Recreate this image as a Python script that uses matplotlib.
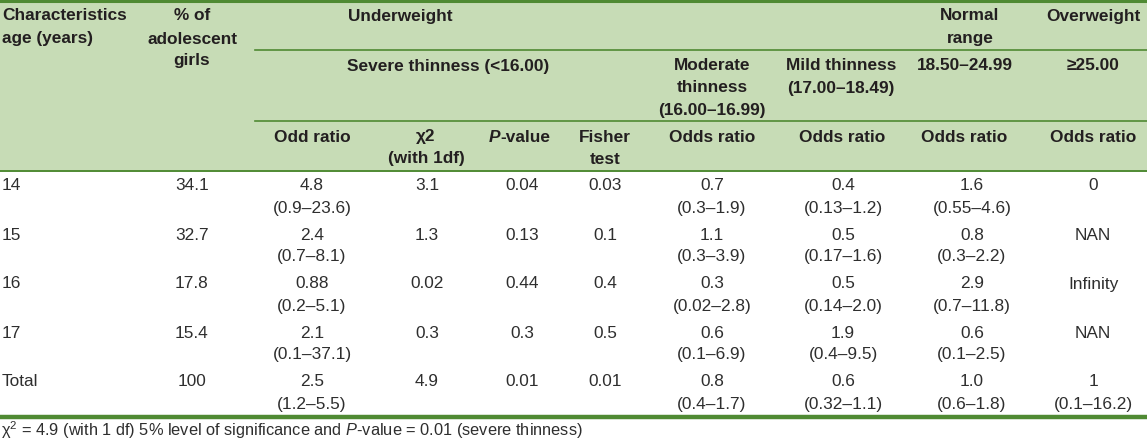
import matplotlib.pyplot as plt

plt.rcParams['font.family'] = ['Liberation Sans', 'DejaVu Sans']
plt.rcParams['mathtext.fontset'] = 'custom'
plt.rcParams['mathtext.rm'] = 'Liberation Sans'
plt.rcParams['mathtext.it'] = 'Liberation Sans:italic'
plt.rcParams['mathtext.bf'] = 'Liberation Sans:bold'

# table data
ages = ["14", "15", "16", "17", "Total"]
pct_girls = ["34.1", "32.7", "17.8", "15.4", "100"]
severe_or = ["4.8", "2.4", "0.88", "2.1", "2.5"]
severe_ci = ["(0.9–23.6)", "(0.7–8.1)", "(0.2–5.1)", "(0.1–37.1)", "(1.2–5.5)"]
chi2 = ["3.1", "1.3", "0.02", "0.3", "4.9"]
p_value = ["0.04", "0.13", "0.44", "0.3", "0.01"]
fisher = ["0.03", "0.1", "0.4", "0.5", "0.01"]
moderate_or = ["0.7", "1.1", "0.3", "0.6", "0.8"]
moderate_ci = ["(0.3–1.9)", "(0.3–3.9)", "(0.02–2.8)", "(0.1–6.9)", "(0.4–1.7)"]
mild_or = ["0.4", "0.5", "0.5", "1.9", "0.6"]
mild_ci = ["(0.13–1.2)", "(0.17–1.6)", "(0.14–2.0)", "(0.4–9.5)", "(0.32–1.1)"]
normal_or = ["1.6", "0.8", "2.9", "0.6", "1.0"]
normal_ci = ["(0.55–4.6)", "(0.3–2.2)", "(0.7–11.8)", "(0.1–2.5)", "(0.6–1.8)"]
over_or = ["0", "NAN", "Infinity", "NAN", "1"]
over_ci = ["", "", "", "", "(0.1–16.2)"]

green = '#4f8a33'
fill = '#c7dcb6'
txt = '#231f20'
body = '#2e2e2e'
fs = 12.4

fig = plt.figure(figsize=(11.47, 4.41), dpi=100)
ax = fig.add_axes([0, 0, 1, 1])
ax.set_xlim(0, 1147)
ax.set_ylim(441, 0)
ax.axis('off')

# header background and rules
ax.axhspan(0, 170, color=fill, lw=0)
ax.plot([0, 1147], [1.2, 1.2], color=green, lw=2.2)
ax.plot([255, 1147], [50, 50], color=green, lw=1.2)
ax.plot([255, 1147], [121, 121], color=green, lw=1.2)
ax.plot([0, 1147], [170.5, 170.5], color=green, lw=1.4)
ax.plot([0, 1147], [417, 417], color=green, lw=3.2)

def hdr(x, y, s, ha='center'):
    ax.text(x, y, s, ha=ha, va='center', fontsize=fs, fontweight='bold', color=txt)

# header row 1
hdr(2, 16, "Characteristics", 'left')
hdr(2, 39, "age (years)", 'left')
hdr(192, 16, "% of")
hdr(192, 39, "adolescent")
hdr(192, 61, "girls")
hdr(400, 16, "Underweight")
hdr(970, 16, "Normal")
hdr(970, 39, "range")
hdr(1093, 16, "Overweight")

# header row 2
hdr(448, 66, "Severe thinness (<16.00)")
hdr(712, 66, "Moderate")
hdr(712, 88, "thinness")
hdr(712, 110, "(16.00–16.99)")
hdr(841, 66, "Mild thinness")
hdr(841, 88, "(17.00–18.49)")
hdr(965, 66, "18.50–24.99")
hdr(1093, 66, "≥25.00")

# header row 3
hdr(312, 137, "Odd ratio")
hdr(426, 137, "χ2")
hdr(426, 159, "(with 1df)")
ax.text(500, 137, "P", ha='right', va='center', fontsize=fs, fontweight='bold',
        fontstyle='italic', color=txt)
ax.text(500, 137, "-value", ha='left', va='center', fontsize=fs, fontweight='bold', color=txt)
hdr(605, 137, "Fisher")
hdr(605, 159, "test")
hdr(712, 137, "Odds ratio")
hdr(842, 137, "Odds ratio")
hdr(964, 137, "Odds ratio")
hdr(1093, 137, "Odds ratio")

# body rows
centers = [192, 312, 427, 522, 605, 712, 843, 972, 1093]
for i in range(len(ages)):
    y1 = 186 + i * 49
    y2 = y1 + 22
    ax.text(2, y1, ages[i], ha='left', va='center', fontsize=fs, color=body)
    line1 = [pct_girls[i], severe_or[i], chi2[i], p_value[i], fisher[i],
             moderate_or[i], mild_or[i], normal_or[i], over_or[i]]
    line2 = ["", severe_ci[i], "", "", "", moderate_ci[i], mild_ci[i],
             normal_ci[i], over_ci[i]]
    for x, a, b in zip(centers, line1, line2):
        ax.text(x, y1, a, ha='center', va='center', fontsize=fs, color=body)
        if b:
            ax.text(x, y2, b, ha='center', va='center', fontsize=fs, color=body)

# footnote
ax.text(1, 430, r"χ$^2$ = 4.9 (with 1 df) 5% level of significance and $\mathit{P}$-value = 0.01 (severe thinness)",
        ha='left', va='center', fontsize=11.8, color=body)

fig.savefig("out.png", dpi=100)
